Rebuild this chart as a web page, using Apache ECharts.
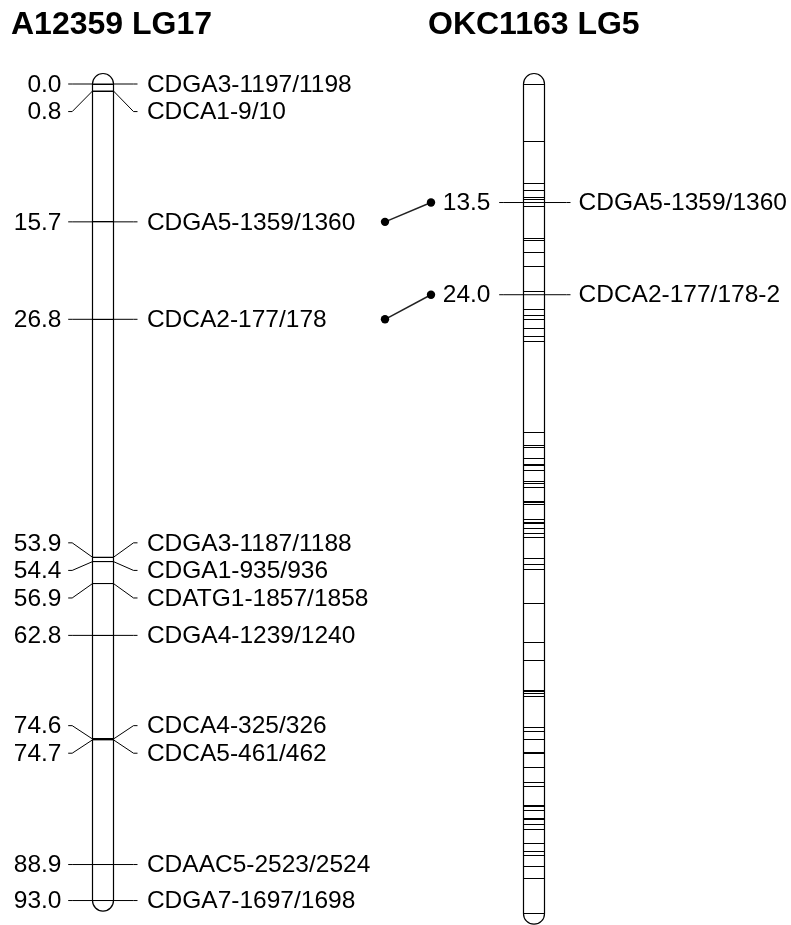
<!DOCTYPE html>
<html>
<head>
<meta charset="utf-8">
<script src="https://cdn.jsdelivr.net/npm/echarts@6/dist/echarts.min.js"></script>
<style>html,body{margin:0;padding:0;background:#fff}#c{width:791px;height:925px}</style>
</head>
<body>
<div id="c"></div>
<script>
// ---------- DATA ----------
const leftTitle = 'A12359 LG17';
const rightTitle = 'OKC1163 LG5';

const leftPositions = [0.0, 0.8, 15.7, 26.8, 53.9, 54.4, 56.9, 62.8, 74.6, 74.7, 88.9, 93.0];
const leftMarkers = ['CDGA3-1197/1198', 'CDCA1-9/10', 'CDGA5-1359/1360', 'CDCA2-177/178',
  'CDGA3-1187/1188', 'CDGA1-935/936', 'CDATG1-1857/1858', 'CDGA4-1239/1240',
  'CDCA4-325/326', 'CDCA5-461/462', 'CDAAC5-2523/2524', 'CDGA7-1697/1698'];
const leftLength = 93.0;

const rightLength = 94.5;
const rightBands = [0, 6.6, 11.3, 12.1, 12.9, 13.2, 14.0, 17.6, 17.8, 19.2, 20.8, 23.6,
  25.7, 26.4, 26.8, 27.9, 28.8, 29.3, 39.7, 41.2, 41.4, 42.6, 43.3, 43.5, 44.0, 45.3, 45.5,
  45.9, 47.5, 47.7, 47.9, 49.6, 49.9, 50.1, 50.6, 51.2, 51.7, 54.0, 54.7, 55.3, 59.2, 63.6,
  65.7, 69.1, 69.2, 69.4, 69.8, 73.3, 73.7, 74.7, 76.1, 76.3, 77.9, 79.6, 80.0, 82.2, 82.3,
  82.7, 83.6, 83.8, 84.3, 84.9, 86.5, 87.4, 87.9, 89.1, 90.5, 94.5];
const rightPositions = [13.5, 24.0];
const rightMarkers = ['CDGA5-1359/1360', 'CDCA2-177/178-2'];

const linkLeft = [15.7, 26.8];
const linkRight = [13.5, 24.0];

// ---------- LAYOUT ----------
const CM_MIN = -8, CM_MAX = 95;
const CHROM_W = 21;
const LEFT_X = 92, RIGHT_X = 523;
const LINK_X1 = 385, LINK_X2 = 431;
const LABEL_GAP = 3.14; // cM
const FONT = '24.5px "Liberation Sans", Arial, sans-serif';

function declump(pos, gap, lo) {
  let cl = pos.map(p => ({ lo: p, hi: p, n: 1 }));
  const place = c => Math.max(lo, (c.lo + c.hi) / 2 - (c.n - 1) * gap / 2);
  let merged = true;
  while (merged) {
    merged = false;
    for (let i = 0; i < cl.length - 1; i++) {
      const a = cl[i], b = cl[i + 1];
      if (place(a) + a.n * gap > place(b) + 1e-9) {
        cl.splice(i, 2, { lo: a.lo, hi: b.hi, n: a.n + b.n });
        merged = true; break;
      }
    }
  }
  const out = [];
  cl.forEach(c => { const s = place(c); for (let k = 0; k < c.n; k++) out.push(s + k * gap); });
  return out;
}

const chroms = [
  { x: LEFT_X, length: leftLength, bands: leftPositions, pos: leftPositions, names: leftMarkers,
    labelPos: declump(leftPositions, LABEL_GAP, 0), numOff: 31, nameOff: 33.4, endOff: 24 },
  { x: RIGHT_X, length: rightLength, bands: rightBands, pos: rightPositions, names: rightMarkers,
    labelPos: declump(rightPositions, LABEL_GAP, 0), numOff: 33, nameOff: 34, endOff: 26 }
];

const crisp = v => Math.round(v - 0.5) + 0.5;

function renderChrom(params, api) {
  const c = chroms[api.value(0)];
  const P = (x, cm) => api.coord([x, cm]);
  const x0 = crisp(P(c.x, 0)[0]), x1 = crisp(P(c.x + CHROM_W, 0)[0]);
  const yTop = P(c.x, 0)[1], yBot = P(c.x, c.length)[1];
  const r = (x1 - x0) / 2;
  const children = [];
  children.push({ type: 'rect', shape: { x: x0, y: yTop - r, width: x1 - x0, height: yBot - yTop + 2 * r, r: r },
    style: { fill: '#fff', stroke: '#000', lineWidth: 1.2 } });
  c.bands.forEach(b => {
    const y = crisp(P(0, b)[1]);
    children.push({ type: 'line', shape: { x1: x0, y1: y, x2: x1, y2: y }, style: { stroke: '#000', lineWidth: 1 } });
  });
  c.pos.forEach((p, k) => {
    const yb = P(0, p)[1], yl = P(0, c.labelPos[k])[1];
    children.push({ type: 'polyline', shape: { points: [[x0 - 24.3, yl], [x0 - 20.3, yl], [x0, yb], [x1, yb], [x1 + c.endOff - 4, yl], [x1 + c.endOff, yl]] },
      style: { stroke: '#000', lineWidth: 1, fill: null } });
    children.push({ type: 'text', style: { text: p.toFixed(1), x: x0 - c.numOff, y: yl + 1, align: 'right', verticalAlign: 'middle', font: FONT, fill: '#000' } });
    children.push({ type: 'text', style: { text: c.names[k], x: x1 + c.nameOff, y: yl + 1, align: 'left', verticalAlign: 'middle', font: FONT, fill: '#000' } });
  });
  return { type: 'group', children: children };
}

function renderLink(params, api) {
  const a = api.coord([LINK_X1, api.value(0)]);
  const b = api.coord([LINK_X2, api.value(1)]);
  return { type: 'group', children: [
    { type: 'line', shape: { x1: a[0], y1: a[1], x2: b[0], y2: b[1] }, style: { stroke: '#222', lineWidth: 1.5 } },
    { type: 'circle', shape: { cx: a[0], cy: a[1], r: 4.2 }, style: { fill: '#000' } },
    { type: 'circle', shape: { cx: b[0], cy: b[1], r: 4.2 }, style: { fill: '#000' } }
  ] };
}

const chart = echarts.init(document.getElementById('c'), null, { renderer: 'canvas' });
chart.setOption({
  animation: false,
  backgroundColor: '#fff',
  grid: { left: 0, right: 0, top: 13.76, bottom: 6.9, containLabel: false },
  xAxis: { type: 'value', min: 0, max: 791, show: false },
  yAxis: { type: 'value', min: CM_MIN, max: CM_MAX, inverse: true, show: false },
  graphic: [
    { type: 'text', left: 11, top: 9, style: { text: leftTitle, font: 'bold 32px "Liberation Sans", Arial, sans-serif', fill: '#000' } },
    { type: 'text', left: 428, top: 9, style: { text: rightTitle, font: 'bold 32px "Liberation Sans", Arial, sans-serif', fill: '#000' } }
  ],
  series: [
    { type: 'custom', name: 'chromosomes', renderItem: renderChrom, data: [[0], [1]], clip: false, silent: true },
    { type: 'custom', name: 'links', renderItem: renderLink, data: linkLeft.map((v, i) => [v, linkRight[i]]), clip: false, silent: true }
  ]
});
</script>
</body>
</html>
